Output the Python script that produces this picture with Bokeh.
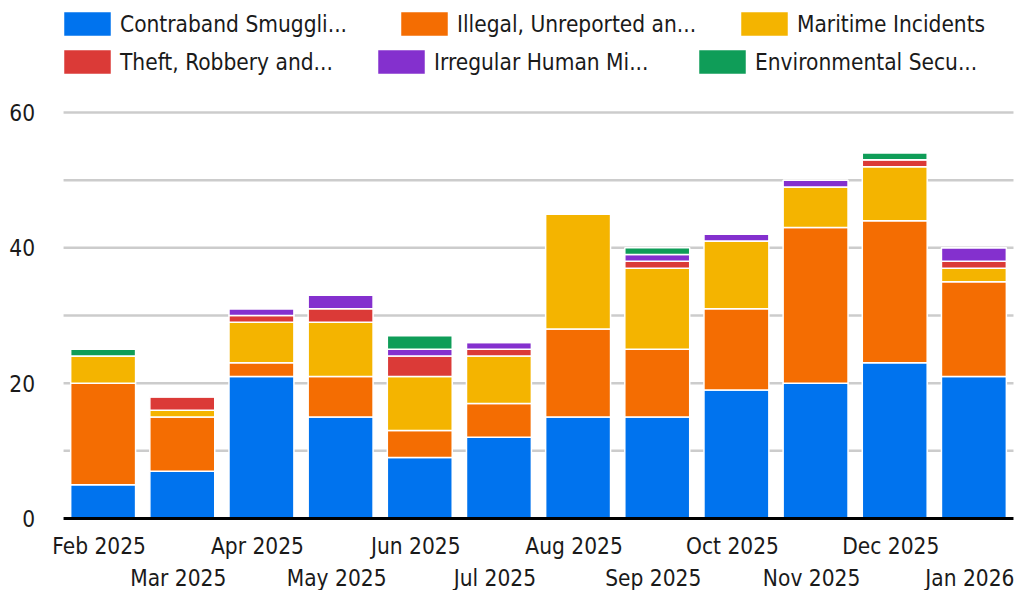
from bokeh.plotting import figure
from bokeh.models import Range1d, Legend, LegendItem
from bokeh.core.properties import value
from bokeh.embed import file_html
from bokeh.resources import INLINE

months = ["Feb 2025", "Mar 2025", "Apr 2025", "May 2025", "Jun 2025", "Jul 2025",
          "Aug 2025", "Sep 2025", "Oct 2025", "Nov 2025", "Dec 2025", "Jan 2026"]
series_names = ["Contraband Smuggli...", "Illegal, Unreported an...", "Maritime Incidents",
                "Theft, Robbery and...", "Irregular Human Mi...", "Environmental Secu..."]
contraband = [5, 7, 21, 15, 9, 12, 15, 15, 19, 20, 23, 21]
illegal = [15, 8, 2, 6, 4, 5, 13, 10, 12, 23, 21, 14]
maritime = [4, 1, 6, 8, 8, 7, 17, 12, 10, 6, 8, 2]
theft = [0, 2, 1, 2, 3, 1, 0, 1, 0, 0, 1, 1]
irregular = [0, 0, 1, 2, 1, 1, 0, 1, 1, 1, 0, 2]
environmental = [1, 0, 0, 0, 2, 0, 0, 1, 0, 0, 1, 0]
colors = ["#0073EE", "#F46D02", "#F4B400", "#DB3A37", "#8430CE", "#0F9D58"]
y_ticks = [0, 20, 40, 60]
y_tick_labels = ["0", "20", "40", "60"]
grid_ticks = [10, 20, 30, 40, 50, 60]

FONT = "DejaVu Sans Condensed"
FS = "22.5px"
TXT = "#1a1a1a"

n = len(months)
keys = ["c", "i", "m", "t", "h", "e"]
data = dict(x=list(range(n)), c=contraband, i=illegal, m=maritime,
            t=theft, h=irregular, e=environmental)

# whole canvas is the plot frame; slots -0.5..n-0.5 span x=63..1013 px
p = figure(width=1019, height=590, output_backend="svg", toolbar_location=None,
           x_range=Range1d(-1.2965, n - 0.5 + 0.076), y_range=Range1d(-10.64, 76.55),
           min_border_left=0, min_border_right=0, min_border_top=0, min_border_bottom=0,
           x_axis_location=None, y_axis_location=None)
p.outline_line_color = None
p.xgrid.visible = False
p.ygrid.visible = False

# horizontal gridlines
p.segment(x0=-0.5, x1=n - 0.5, y0=grid_ticks, y1=grid_ticks,
          line_color="#cccccc", line_width=2.5)

renderers = p.vbar_stack(keys, x="x", width=0.82, color=colors, source=data,
                         line_color="white", line_width=1.5)

# baseline
p.segment(x0=-0.5, x1=n - 0.5, y0=0, y1=0, line_color="black", line_width=3)

# y tick labels
p.text(x=-0.5, y=y_ticks, text=y_tick_labels, x_offset=-28.5,
       text_align="right", text_baseline="middle",
       text_font=value(FONT), text_font_size=FS, text_color=TXT)

# staggered x labels
even = [i for i in range(n) if i % 2 == 0]
odd = [i for i in range(n) if i % 2 == 1]
for idx, off in ((even, 27), (odd, 59)):
    p.text(x=idx, y=0, text=[months[i] for i in idx], x_offset=-4, y_offset=off,
           text_align="center", text_baseline="middle",
           text_font=value(FONT), text_font_size=FS, text_color=TXT)

# legend items, each placed like the reference (two rows of three)
legend_pos = [(57, 551), (394, 551), (734, 551), (57, 513), (371, 513), (692, 513)]
for k, (lx, ly) in enumerate(legend_pos):
    lg = Legend(items=[LegendItem(label=series_names[k], renderers=[renderers[k]])],
                location=(lx, ly), orientation="horizontal",
                glyph_width=60, glyph_height=31, label_standoff=3, spacing=0,
                padding=0, margin=0, border_line_color=None, background_fill_alpha=0,
                label_text_font=FONT, label_text_font_size=FS, label_text_color=TXT,
                label_height=24)
    p.add_layout(lg, "center")

open("out.html", "w").write(file_html(p, INLINE))
